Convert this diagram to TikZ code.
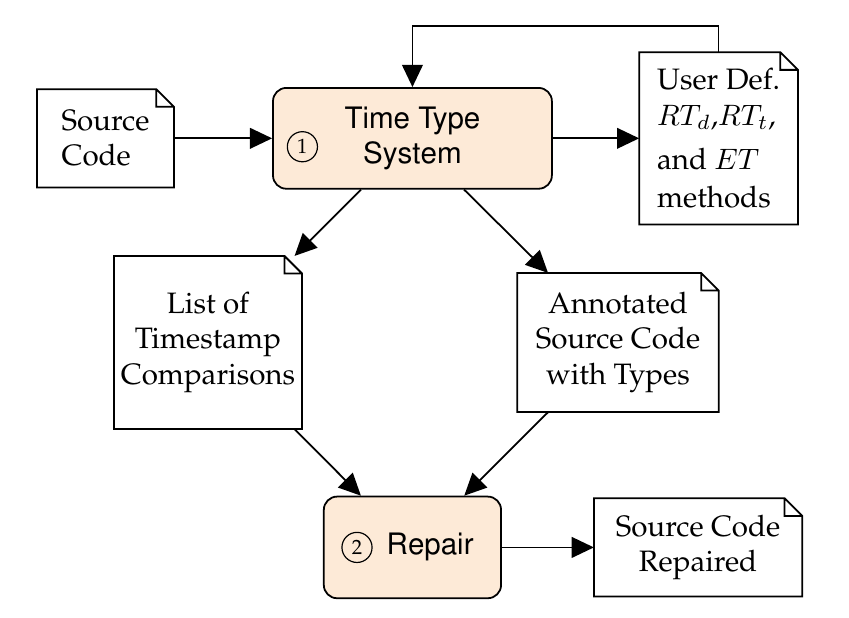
\documentclass[tikz,border=0pt]{standalone}
\usepackage[T1]{fontenc}
\usepackage{palatino}
\usepackage{helvet}
\usepackage{amsmath}
\usetikzlibrary{arrows.meta}

\definecolor{procfill}{RGB}{253,234,215}
\newcommand{\docfold}{0.21cm}

\begin{document}
\begin{tikzpicture}
  [semithick,>={Triangle[length=7.5pt,width=7pt]},
   proc/.style={rectangle,rounded corners=4.5pt,draw,fill=procfill,font=\sffamily,align=center},
   doc/.style={rectangle,outer sep=0pt,inner sep=0pt},
   numc/.style={circle,draw,thin,inner sep=0pt,minimum size=10.2pt,font=\scriptsize}]
  \useasboundingbox (0,0) rectangle (10.107,7.357);
  % processes
  \node[proc,minimum width=3.32cm,minimum height=1.2cm] (tts) at (4.91,5.71) {Time Type\\System};
  \node[proc,minimum width=2.11cm,minimum height=1.21cm] (rep) at (4.91,0.84) {\hspace*{12pt}Repair};
  \node[numc] (c1) at (3.60,5.61) {1};
  \node[numc] (c2) at (4.25,0.84) {2};
  % documents
  \node[doc,minimum width=1.63cm,minimum height=1.17cm,align=left] (src) at (1.256,5.71) {Source\\Code};
  \node[doc,minimum width=1.89cm,minimum height=2.05cm,align=left] (udef) at (8.554,5.71) {User Def.\\$RT_d$,$RT_t$,\\[3pt]and $ET$\\[1pt]methods};
  \node[doc,minimum width=2.24cm,minimum height=2.06cm,align=center] (list) at (2.476,3.28) {List of\\Timestamp\\Comparisons};
  \node[doc,minimum width=2.4cm,minimum height=1.655cm,align=center] (ann) at (7.357,3.28) {Annotated\\Source Code\\with Types};
  \node[doc,minimum width=2.48cm,minimum height=1.17cm,align=center] (out) at (8.31,0.84) {Source Code\\Repaired};
  \foreach \d in {src,udef,list,ann,out}
    \draw (\d.north west) -- ([xshift=-\docfold]\d.north east) -- ([yshift=-\docfold]\d.north east)
      -- (\d.south east) -- (\d.south west) -- cycle
      ([xshift=-\docfold]\d.north east) |- ([yshift=-\docfold]\d.north east);
  % flow
  \foreach \from/\to in {src/tts, tts/udef, tts/list, tts/ann, list/rep, ann/rep, rep/out}
    \draw [->] (\from) -- (\to);
  \draw [->] (udef.north) -- ++(0,0.31) -| (tts.north);
\end{tikzpicture}
\end{document}
